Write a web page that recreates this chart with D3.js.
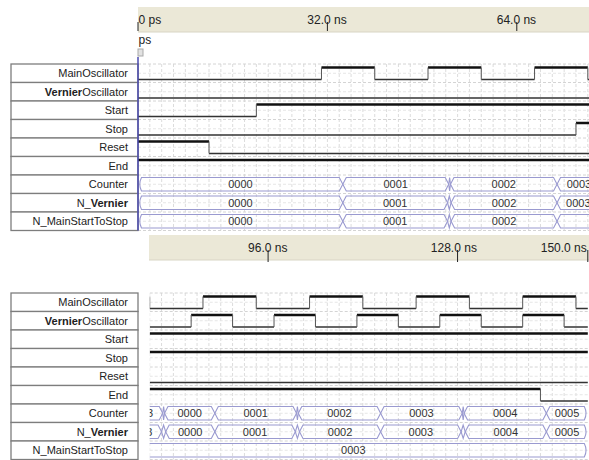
<!DOCTYPE html>
<html>
<head>
<meta charset="utf-8">
<script src="https://cdn.jsdelivr.net/npm/d3@7"></script>
<style>
body { margin: 0; background: #fff; }
text { font-family: Arial, "Liberation Sans", sans-serif; }
</style>
</head>
<body>
<div id="chart-area"></div>
<script>
const WIDTH = 589
const HEIGHT = 460
const ROW_H = 18.5
const LABEL = { LEFT: 11, RIGHT: 138, TEXT: 128 }
const BUS_SLOPE = 3.5

// signal names, top to bottom
const signalNames = ["MainOscillator", "VernierOscillator", "Start", "Stop", "Reset", "End",
	"Counter", "N_Vernier", "N_MainStartToStop"]

// binary signals: [time ns, level]
const mainOsc = [[0, 0], [31, 1], [40, 0], [49, 1], [58, 0], [67, 1], [76, 0], [85, 1], [94, 0],
	[103, 1], [112, 0], [121, 1], [130, 0], [139, 1], [148, 0]]
const vernierOsc = [[0, 0], [83, 1], [90, 0], [97, 1], [104, 0], [111, 1], [118, 0], [125, 1],
	[132, 0], [139, 1], [146, 0]]
const start = [[0, 0], [20, 1]]
const stop = [[0, 0], [74, 1]]
const reset = [[0, 1], [12, 0]]
const end = [[0, 1], [142, 0]]

// bus signals: [time ns, value] ("" = short glitch, no label)
const counter = [[0, "0000"], [34.6, "0001"], [52.5, ""], [52.8, "0002"], [70.8, "0003"],
	[78.2, ""], [78.5, "0000"], [87, "0001"], [100.8, ""], [101.1, "0002"], [115, "0003"],
	[128.8, ""], [129.1, "0004"], [143, "0005"]]
const nVernier = [[0, "0000"], [34.6, "0001"], [52.3, ""], [52.9, "0002"], [70.8, "0003"],
	[78.0, ""], [78.7, "0000"], [87, "0001"], [100.6, ""], [101.3, "0002"], [115, "0003"],
	[128.6, ""], [129.3, "0004"], [143, "0005"]]
const nMainStartToStop = [[0, "0000"], [34.6, "0001"], [52.3, ""], [52.9, "0002"], [70.8, "0003"]]

const END_TIME = 150

// time ruler labels
const topTickValues = [0, 32, 64]
const topTickLabels = ["0 ps", "32.0 ns", "64.0 ns"]
const bottomTickValues = [96, 128, 150]
const bottomTickLabels = ["96.0 ns", "128.0 ns", "150.0 ns"]

const signals = [
	{ type: "bit", data: mainOsc },
	{ type: "bit", data: vernierOsc },
	{ type: "bit", data: start },
	{ type: "bit", data: stop },
	{ type: "bit", data: reset },
	{ type: "bit", data: end },
	{ type: "bus", data: counter },
	{ type: "bus", data: nVernier },
	{ type: "bus", data: nMainStartToStop }
]

const panels = [
	{ id: "top", domain: [0, 76.2], range: [138, 589], rowTop: 64, band: { y: 7, h: 25 },
		tickY: [22, 31], labelY: 24, ticks: topTickValues, labels: topTickLabels },
	{ id: "bottom", domain: [76, 150], range: [149.7, 587.8], rowTop: 293, band: { y: 235, h: 25 },
		tickY: [250, 262], labelY: 252, ticks: bottomTickValues, labels: bottomTickLabels }
]

const svg = d3.select("#chart-area").append("svg")
	.attr("width", WIDTH)
	.attr("height", HEIGHT)

const defs = svg.append("defs")

panels.forEach(p => {
	const x = d3.scaleLinear().domain(p.domain).range(p.range)
	const nRows = signalNames.length
	const yTop = p.rowTop
	const yBottom = p.rowTop + nRows * ROW_H
	const bandX = Math.floor(p.range[0])

	// clip for waveform area
	defs.append("clipPath").attr("id", `clip-${p.id}`)
		.append("rect")
		.attr("x", p.range[0]).attr("y", yTop - 2)
		.attr("width", WIDTH - p.range[0]).attr("height", yBottom - yTop + 4)

	// time ruler band
	const ruler = svg.append("g").attr("class", "ruler")
	ruler.append("rect")
		.attr("x", bandX).attr("y", p.band.y)
		.attr("width", WIDTH - bandX).attr("height", p.band.h)
		.attr("fill", "#ebe8d7")
	ruler.append("line")
		.attr("x1", bandX).attr("x2", WIDTH)
		.attr("y1", p.band.y + p.band.h).attr("y2", p.band.y + p.band.h)
		.attr("stroke", "#d8d5c4")

	p.ticks.forEach((t, i) => {
		const tx = x(t)
		ruler.append("line")
			.attr("x1", tx).attr("x2", tx)
			.attr("y1", p.tickY[0]).attr("y2", p.tickY[1])
			.attr("stroke", "#222")
		const label = ruler.append("text")
			.attr("y", p.labelY)
			.attr("font-size", "12px")
			.attr("fill", "#222")
			.text(p.labels[i])
		const node = label.node()
		const dot = p.labels[i].indexOf(".")
		let lx
		if (t === 0) lx = tx + 0.5
		else if (t === END_TIME) lx = tx - node.getComputedTextLength() - 1
		else lx = tx - node.getSubStringLength(0, dot + 1) - node.getSubStringLength(dot + 1, 1) / 2
		label.attr("x", lx)
	})

	// grid
	const grid = svg.append("g").attr("class", "grid").attr("clip-path", `url(#clip-${p.id})`)
	d3.range(Math.ceil(p.domain[0] / 2) * 2, p.domain[1], 2).forEach(t => {
		grid.append("line")
			.attr("x1", x(t)).attr("x2", x(t))
			.attr("y1", yTop).attr("y2", yBottom)
			.attr("stroke", "#dcdcdc")
			.attr("stroke-dasharray", "3,2")
	})
	d3.range(nRows * 2 + 1).forEach(k => {
		const gy = yTop + k * ROW_H / 2
		grid.append("line")
			.attr("x1", p.range[0]).attr("x2", WIDTH)
			.attr("y1", gy).attr("y2", gy)
			.attr("stroke", k % 2 === 0 ? "#d4d4d4" : "#e6e6e6")
			.attr("stroke-dasharray", "3,2")
	})

	// name boxes
	const names = svg.append("g").attr("class", "names")
	signalNames.forEach((name, i) => {
		const ry = yTop + i * ROW_H
		names.append("rect")
			.attr("x", LABEL.LEFT).attr("y", ry)
			.attr("width", LABEL.RIGHT - LABEL.LEFT).attr("height", ROW_H)
			.attr("fill", "#fff")
			.attr("stroke", "#7d7d7d")
			.attr("stroke-width", 1.3)
		const txt = names.append("text")
			.attr("x", LABEL.TEXT).attr("y", ry + ROW_H / 2 + 4)
			.attr("text-anchor", "end")
			.attr("font-size", "11px")
			.attr("fill", "#222")
		const parts = name.split(/(Vernier)/).filter(s => s.length)
		parts.forEach(s => {
			txt.append("tspan").attr("font-weight", s === "Vernier" ? "bold" : "normal").text(s)
		})
	})

	// waveforms
	const waves = svg.append("g").attr("class", "waves").attr("clip-path", `url(#clip-${p.id})`)
	signals.forEach((sig, i) => {
		const ry = yTop + i * ROW_H
		if (sig.type === "bit") {
			const yHigh = ry + 3.5
			const yLow = ry + ROW_H - 3
			sig.data.forEach((d, j) => {
				const t0 = d[0]
				const t1 = j + 1 < sig.data.length ? sig.data[j + 1][0] : END_TIME
				const a = Math.max(t0, p.domain[0]), b = Math.min(t1, p.domain[1])
				if (b > a) {
					waves.append("line")
						.attr("x1", x(a)).attr("x2", x(b))
						.attr("y1", d[1] ? yHigh : yLow).attr("y2", d[1] ? yHigh : yLow)
						.attr("stroke", d[1] ? "#111" : "#333")
						.attr("stroke-width", d[1] ? 2.4 : 1.7)
				}
				if (j > 0 && t0 >= p.domain[0] && t0 <= p.domain[1]) {
					waves.append("line")
						.attr("x1", x(t0)).attr("x2", x(t0))
						.attr("y1", yHigh).attr("y2", yLow)
						.attr("stroke", "#555")
						.attr("stroke-width", 1)
				}
			})
		} else {
			const yt = ry + 2.5
			const yb = ry + ROW_H - 2.5
			const ym = (yt + yb) / 2
			sig.data.forEach((d, j) => {
				const t0 = d[0]
				const t1 = j + 1 < sig.data.length ? sig.data[j + 1][0] : END_TIME
				if (t1 < p.domain[0] - 2 || t0 > p.domain[1] + 2) return
				const x0 = x(t0), x1 = x(t1)
				const h = Math.min(BUS_SLOPE, (x1 - x0) / 2)
				const left = t0 === 0
					? `M${x0 + h},${yt}Q${x0},${ym} ${x0 + h},${yb}`
					: `M${x0 + h},${yt}L${x0},${ym}L${x0 + h},${yb}`
				const right = t1 === END_TIME
					? `L${x1 - h},${yb}Q${x1},${ym} ${x1 - h},${yt}Z`
					: `L${x1 - h},${yb}L${x1},${ym}L${x1 - h},${yt}Z`
				waves.append("path")
					.attr("d", left + right)
					.attr("fill", "none")
					.attr("stroke", "#9a9ad0")
					.attr("stroke-width", 1.1)
				if (d[1]) {
					waves.append("text")
						.attr("x", (x0 + x1) / 2).attr("y", ym + 4)
						.attr("text-anchor", "middle")
						.attr("font-size", "11px")
						.attr("fill", "#333")
						.text(d[1])
				}
			})
		}
	})

	// cursor line and handle for the top panel
	if (p.id === "top") {
		defs.append("clipPath").attr("id", "clip-ps")
			.append("rect").attr("x", p.range[0]).attr("y", 30).attr("width", 60).attr("height", 20)
		svg.append("text")
			.attr("x", p.range[0] - 9.5).attr("y", 44)
			.attr("font-size", "12px")
			.attr("fill", "#222")
			.attr("clip-path", "url(#clip-ps)")
			.text("0 ps")
		svg.append("rect")
			.attr("x", p.range[0]).attr("y", 49).attr("width", 5).attr("height", 7)
			.attr("fill", "#e2e2e2").attr("stroke", "#aaa")
		svg.append("line")
			.attr("x1", p.range[0]).attr("x2", p.range[0])
			.attr("y1", 57).attr("y2", yBottom)
			.attr("stroke", "#4b4bb0")
			.attr("stroke-width", 1.5)
	}
})
</script>
</body>
</html>
